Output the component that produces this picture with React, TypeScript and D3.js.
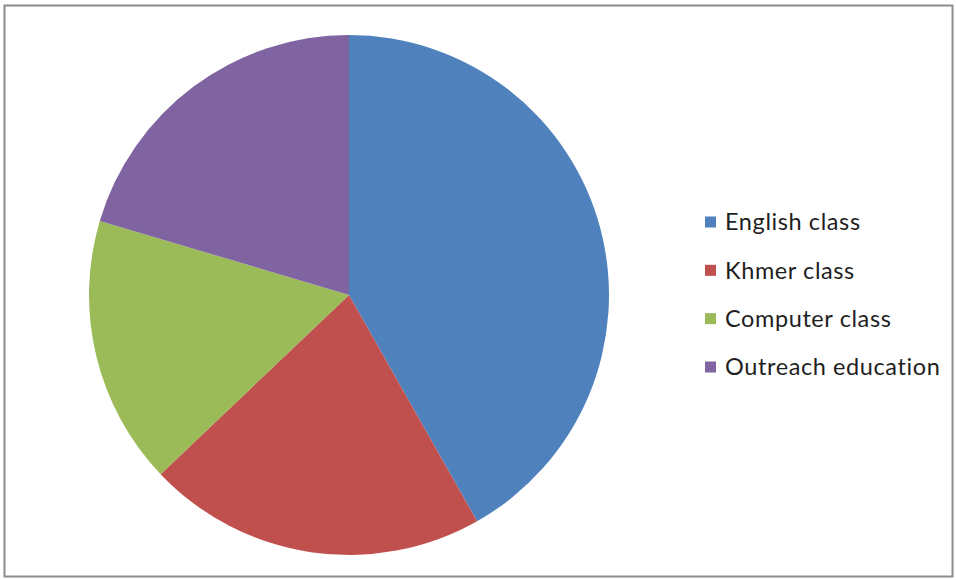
import React from "react";
import * as d3 from "d3";

const categories = ["English class", "Khmer class", "Computer class", "Outreach education"];
const values = [41.8, 21.1, 16.7, 20.4];
const colors = ["#4F81BD", "#C0504D", "#9BBB59", "#8064A2"];

const W = 956;
const H = 580;

export default function App() {
  const cx = 349;
  const cy = 295;
  const r = 260;
  const pie = d3.pie<number>().sort(null).value((d) => d)(values);
  const arc = d3.arc<d3.PieArcDatum<number>>().innerRadius(0).outerRadius(r);
  const legendY = d3.scalePoint<string>().domain(categories).range([222, 367]);

  return (
    <svg
      width={W}
      height={H}
      style={{ position: "absolute", left: 0, top: 0, background: "#fff" }}
    >
      <rect x={4.5} y={5.5} width={948} height={571} fill="#fff" stroke="#8c8c8c" strokeWidth={2} />
      <g transform={`translate(${cx},${cy})`}>
        {pie.map((p, i) => (
          <path key={i} d={arc(p) || ""} fill={colors[i]} />
        ))}
      </g>
      <g>
        {categories.map((c, i) => (
          <g key={c} transform={`translate(0,${legendY(c)})`}>
            <rect x={705} y={-5.5} width={11} height={11} fill={colors[i]} />
            <text
              x={725}
              y={0}
              dy="0.35em"
              fontFamily="Lato, 'Open Sans', sans-serif"
              fontSize={23.5}
              letterSpacing={0.6}
              fill="#1f1f1f"
            >
              {c}
            </text>
          </g>
        ))}
      </g>
    </svg>
  );
}
